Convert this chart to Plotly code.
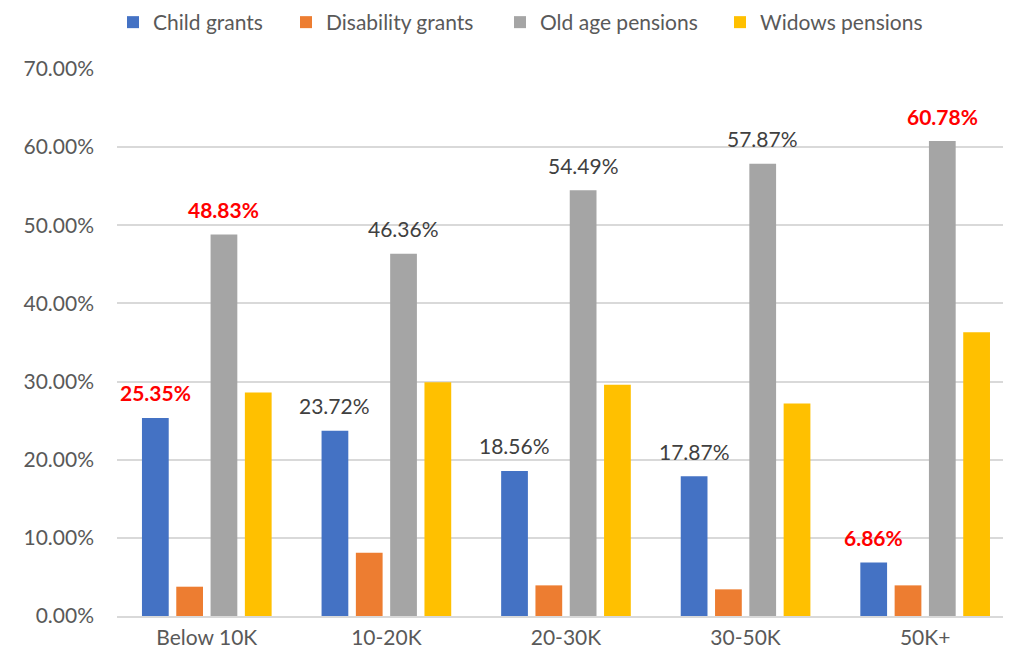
import plotly.graph_objects as go

categories = ["Below 10K", "10-20K", "20-30K", "30-50K", "50K+"]
series_names = ["Child grants", "Disability grants", "Old age pensions", "Widows pensions"]
child_grants = [25.35, 23.72, 18.56, 17.87, 6.86]
disability_grants = [3.75, 8.09, 3.92, 3.41, 3.92]
old_age_pensions = [48.83, 46.36, 54.49, 57.87, 60.78]
widows_pensions = [28.6, 29.9, 29.6, 27.2, 36.3]
y_ticks = [0, 10, 20, 30, 40, 50, 60, 70]
highlight = [True, False, False, False, True]  # red bold labels

colors = ["#4472C4", "#ED7D31", "#A5A5A5", "#FFC000"]
values = [child_grants, disability_grants, old_age_pensions, widows_pensions]
legend_px = [105, 278, 492, 712]  # legend box left positions (px, figure coords)

# page body has an 8px margin; figure sized so it exactly fills the window
W, H = 1003, 642
ML, MR, MT, MB = 109, 0, 60.5, 34
xr = [-0.5, 4.478]
bargap = 0.236
bargroupgap = 0.22
FONT = "Lato"
FS = 21

fig = go.Figure()
legend_ids = ["legend", "legend2", "legend3", "legend4"]
for name, vals, col, lid in zip(series_names, values, colors, legend_ids):
    fig.add_trace(go.Bar(
        x=categories, y=[v / 100 for v in vals], name=name,
        marker=dict(color=col, line=dict(width=0)),
        legend=lid, showlegend=True, hoverinfo="x+y+name",
    ))

plot_w = W - ML - MR
cat_px = plot_w / (xr[1] - xr[0])
slot = cat_px * (1 - bargap) / 4
annotations = []
for si in (0, 2):
    shift = (si - 1.5) * slot
    for ci, cat in enumerate(categories):
        v = values[si][ci]
        red = highlight[ci]
        annotations.append(dict(
            x=cat, y=v / 100, xref="x", yref="y",
            text=(f"<b>{v:.2f}%</b>" if red else f"{v:.2f}%"),
            showarrow=False, xshift=shift, yshift=25, yanchor="middle",
            font=dict(family=FONT, size=FS, color="#FF0000" if red else "#404040"),
        ))

leg_common = dict(orientation="h", xref="container", yref="container", xanchor="left",
                  yanchor="middle", y=1 - 14.5 / H, bgcolor="rgba(0,0,0,0)",
                  font=dict(family=FONT, size=FS, color="#595959"))
layout_legends = {}
for lid, px in zip(legend_ids, legend_px):
    layout_legends[lid] = dict(leg_common, x=px / W)

fig.update_layout(
    width=W, height=H, showlegend=True,
    margin=dict(l=ML, r=MR, t=MT, b=MB, pad=0, autoexpand=False),
    paper_bgcolor="white", plot_bgcolor="white",
    barmode="group", bargap=bargap, bargroupgap=bargroupgap,
    font=dict(family=FONT, size=FS, color="#595959"),
    annotations=annotations,
    xaxis=dict(range=xr, showgrid=False, showline=True, linecolor="#D9D9D9", linewidth=2,
               ticks="", ticklabelstandoff=2, automargin=False,
               tickfont=dict(size=FS, color="#595959")),
    yaxis=dict(range=[0, 0.70], tickvals=[t / 100 for t in y_ticks],
               ticktext=[f"{t:.2f}%" for t in y_ticks],
               showgrid=True, gridcolor="#D9D9D9", gridwidth=1.5, zeroline=False,
               showline=False, ticks="", ticklabelstandoff=22, automargin=False,
               tickfont=dict(size=FS, color="#595959")),
    **layout_legends,
)

fig.write_html("out.html")
